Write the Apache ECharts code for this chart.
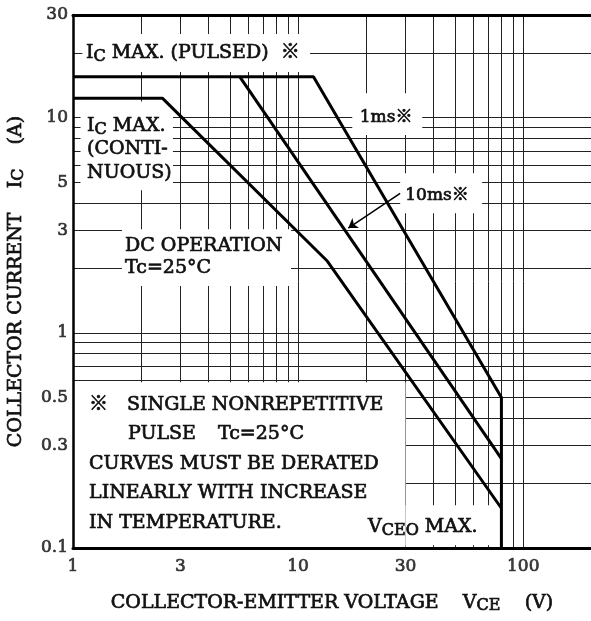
<!DOCTYPE html>
<html>
<head>
<meta charset="utf-8">
<script src="https://cdn.jsdelivr.net/npm/echarts@6/dist/echarts.min.js"></script>
<style>
html, body { margin: 0; padding: 0; background: #fff; }
#main { width: 591px; height: 621px; }
</style>
</head>
<body>
<div id="main"></div>
<script>
var FONT = "'DejaVu Serif', 'Noto Sans CJK JP', serif";

// 目盛りラベル
var xTicks = [1, 3, 10, 30, 100];
var yTicks = [30, 10, 5, 3, 1, 0.5, 0.3, 0.1];

// 補助線 (対数グリッド)
var xGrid = [2, 3, 4, 5, 6, 7, 8, 9, 10, 20, 30, 40, 50, 60, 70, 80, 90, 100];
var yGrid = [0.2, 0.3, 0.4, 0.5, 0.6, 0.7, 0.8, 0.9, 1, 2, 3, 4, 5, 6, 7, 8, 9, 10, 20];

// 曲線 [VCE (V), IC (A)]
var curve1ms = [[1, 15.5], [11.7, 15.5], [80, 0.5], [80, 0.1]];
var curve10ms = [[5.5, 15.5], [80, 0.26]];
var curveDC = [[1, 12.3], [2.5, 12.3], [13.5, 2.15], [80, 0.153]];

// ラベルの白抜き部分
var boxes = [
    [[1.1, 16.3], [11.3, 24.5]],
    [[1.08, 4.6], [2.78, 11.9]],
    [[1.65, 1.65], [9.3, 3.03]],
    [[17.4, 8.3], [35.6, 13.0]],
    [[28.4, 3.6], [65.7, 5.52]],
    [[1, 0.1], [30, 0.59]],
    [[30, 0.103], [79.5, 0.158]]
];

var INK = '#111';
var BOLD = 0.7;   // 文字を少し太らせる

function rs(o) {
    // rich用スタイル
    var r = { fontFamily: FONT, color: INK, textBorderColor: INK, textBorderWidth: BOLD };
    for (var k in o) r[k] = o[k];
    return r;
}

var sub = rs({ fontSize: 16, lineHeight: 14, verticalAlign: 'bottom' });

function txt(coord, text, opt) {
    var label = {
        show: true,
        position: 'right',
        distance: 0,
        formatter: text,
        color: INK,
        fontFamily: FONT,
        fontSize: 19,
        lineHeight: 24,
        textBorderColor: INK,
        textBorderWidth: BOLD,
        rich: { s: sub }
    };
    for (var k in opt) label[k] = opt[k];
    return { coord: coord, label: label };
}

var myChart = echarts.init(document.getElementById('main'));

var lineStyle = { color: '#000', width: 3 };

var nameStyle = {
    color: INK, fontFamily: FONT, fontSize: 19, lineHeight: 22,
    textBorderColor: INK, textBorderWidth: BOLD,
    rich: { s: rs({ fontSize: 16, lineHeight: 12, verticalAlign: 'bottom' }) }
};

option = {
    animation: false,
    grid: { left: 73, right: 0, top: 15, bottom: 73, outerBoundsMode: 'none' },
    xAxis: [
        {
            type: 'log', min: 1, max: 200, z: 10,
            axisLine: { show: true, lineStyle: { color: '#000', width: 3 } },
            axisTick: { show: false }, axisLabel: { show: false }, splitLine: { show: false },
            name: 'COLLECTOR-EMITTER VOLTAGE    V{s|CE}    (V)',
            nameLocation: 'middle',
            nameGap: 44,
            nameTextStyle: nameStyle
        },
        {
            type: 'log', min: 1, max: 200, position: 'top', z: 10,
            axisLine: { show: true, lineStyle: { color: '#000', width: 3 } },
            axisTick: { show: false }, axisLabel: { show: false }, splitLine: { show: false }
        }
    ],
    yAxis: {
        type: 'log', min: 0.1, max: 30, z: 10,
        axisLine: { show: true, lineStyle: { color: '#000', width: 2.5 } },
        axisTick: { show: false }, axisLabel: { show: false }, splitLine: { show: false },
        name: 'COLLECTOR CURRENT    I{s|C}    (A)',
        nameLocation: 'middle',
        nameRotate: 90,
        nameGap: 46,
        nameTextStyle: nameStyle
    },
    series: [
        {
            // グリッドと白抜き
            type: 'line',
            data: [],
            silent: true,
            markLine: {
                z: 1,
                silent: true,
                symbol: ['none', 'none'],
                label: { show: false },
                lineStyle: { color: '#222', width: 1, type: 'solid' },
                data: xGrid.map(function (v) { return { xAxis: v }; })
                    .concat(yGrid.map(function (v) { return { yAxis: v }; }))
            },
            markArea: {
                z: 2,
                silent: true,
                itemStyle: { color: '#fff', opacity: 1 },
                label: { show: false },
                data: boxes.map(function (b) { return [{ coord: b[0] }, { coord: b[1] }]; })
            }
        },
        {
            name: '1ms', type: 'line', z: 3, data: curve1ms,
            symbol: 'none', lineStyle: lineStyle, silent: true
        },
        {
            name: '10ms', type: 'line', z: 3, data: curve10ms,
            symbol: 'none', lineStyle: lineStyle, silent: true,
            markLine: {
                z: 3,
                silent: true,
                symbol: ['none', 'arrow'],
                symbolSize: 9,
                label: { show: false },
                lineStyle: { color: '#000', width: 1.5, type: 'solid' },
                data: [[{ coord: [28.4, 4.45] }, { coord: [16.7, 3.07] }]]
            }
        },
        {
            name: 'DC', type: 'line', z: 3, data: curveDC,
            symbol: 'none', lineStyle: lineStyle, silent: true
        },
        {
            // 注記
            type: 'scatter',
            data: [],
            silent: true,
            markPoint: {
                z: 4,
                silent: true,
                symbol: 'circle',
                symbolSize: 0,
                data: [
                    txt([1.142, 20], 'I{s|C} MAX. (PULSED)  ※'),
                    txt([1.154, 7.11], 'I{s|C} MAX.\n(CONTI-\nNUOUS)', { lineHeight: 23.5 }),
                    txt([1.703, 2.25], 'DC OPERATION\nTc=25°C', { lineHeight: 22 }),
                    txt([24.6, 10], '1ms※', { position: 'inside', fontSize: 17 }),
                    txt([41.4, 4.33], '10ms※', { position: 'inside', fontSize: 17 }),
                    txt([1.178, 0.2457],
                        '{a|※}SINGLE NONREPETITIVE\n{b| }PULSE{c| }Tc=25°C\nCURVES MUST BE DERATED\nLINEARLY WITH INCREASE\nIN TEMPERATURE.',
                        {
                            lineHeight: 29.5,
                            rich: {
                                a: rs({ width: 38, lineHeight: 29.5, fontSize: 19 }),
                                b: rs({ width: 39, lineHeight: 29.5, fontSize: 19 }),
                                c: rs({ width: 22, lineHeight: 29.5, fontSize: 19 })
                            }
                        }),
                    txt([20.45, 0.1252], 'V{s|CEO} MAX.')
                ]
            }
        },
        {
            // X軸目盛り
            type: 'scatter', z: 5, clip: false, silent: true,
            symbolSize: 0,
            data: xTicks.map(function (v) { return [v, 0.1]; }),
            label: {
                show: true, position: 'bottom', distance: 10,
                color: INK, fontFamily: FONT, fontSize: 17,
                textBorderColor: INK, textBorderWidth: BOLD,
                formatter: function (p) { return String(p.value[0]); }
            }
        },
        {
            // Y軸目盛り
            type: 'scatter', z: 5, clip: false, silent: true,
            symbolSize: 0,
            data: yTicks.map(function (v) { return [1, v]; }),
            label: {
                show: true, position: 'left', distance: 5,
                color: INK, fontFamily: FONT, fontSize: 17,
                textBorderColor: INK, textBorderWidth: BOLD,
                formatter: function (p) { return String(p.value[1]); }
            }
        }
    ]
};

myChart.setOption(option);
</script>
</body>
</html>
